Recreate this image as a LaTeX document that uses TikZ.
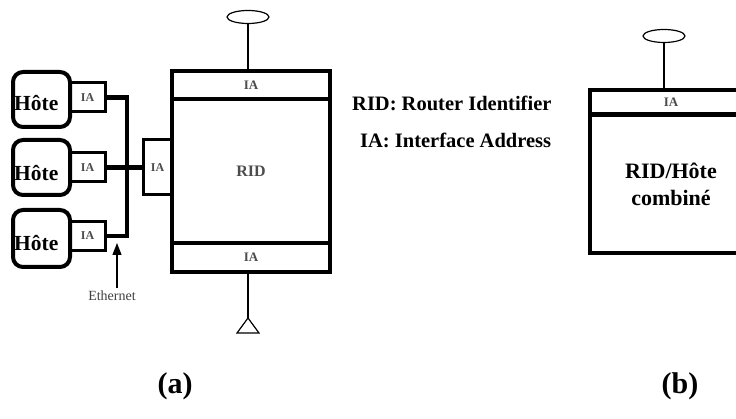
\documentclass[tikz,border=0pt]{standalone}
\usepackage{fontspec}
\setmainfont{Liberation Serif}
\usetikzlibrary{shapes.geometric, arrows.meta, positioning}

\begin{document}
\begin{tikzpicture}[
  x=1pt, y=-1pt,
  >=Stealth,
  % Thick frame of a router / host part
  frame/.style={rectangle, draw, line width=4pt, inner sep=0pt, line join=miter},
  strip/.style={frame, font=\bfseries\fontsize{13}{13}\selectfont, text=black!70},
  % Host box
  hostbox/.style={rectangle, draw, line width=4pt, rounded corners=10pt, inner sep=0pt, minimum width=57, minimum height=55},
  hostlbl/.style={anchor=west, inner sep=0pt, font=\bfseries\fontsize{21.5}{21.5}\selectfont},
  % Small IA box
  iabox/.style={rectangle, draw, line width=3pt, inner sep=0pt, minimum width=35, minimum height=29, font=\bfseries\fontsize{12}{12}\selectfont, text=black!70},
  % Ethernet bus
  busline/.style={line width=4.5pt, line join=miter},
  % Thin connectors
  wire/.style={line width=1.3pt},
  antenna/.style={ellipse, draw, line width=1.2pt, inner sep=0pt, minimum width=42, minimum height=13},
  legend/.style={anchor=west, inner sep=0pt, font=\bfseries\fontsize{20.5}{20.5}\selectfont},
  caption/.style={inner sep=0pt, font=\bfseries\fontsize{30}{30}\selectfont}
]
\clip (0,0) rectangle (736,419);

%% (a) Router with its interfaces
\node[strip, minimum width=158, minimum height=28]  (rtop) at (251,85)    {IA};
\node[frame, minimum width=158, minimum height=144, font=\bfseries\fontsize{16}{16}\selectfont, text=black!70] (rid) at (251,171) {RID};
\node[strip, minimum width=158, minimum height=29]  (rbot) at (251,257.5) {IA};
\node[iabox, minimum width=29, minimum height=55]   (sia)  at (157.5,167.5) {IA};

% top antenna
\node[antenna] (ant) at (248,17) {};
\draw[wire] (ant.south) -- (ant.south |- rtop.north);

% bottom triangle
\coordinate (gnd) at (248,318);
\draw[wire] (gnd |- rbot.south) -- (gnd);
\draw[line width=1.2pt] (gnd) -- ++(-11,15) -- ++(22,0) -- cycle;

%% Hosts
\node[hostbox] (h1) at (41.5,99.5)  {};
\node[hostbox] (h2) at (41.5,167.5) {};
\node[hostbox, minimum height=57] (h3) at (41.5,238.5) {};
\node[hostlbl] at ([xshift=3, yshift=-4]h1.west) {Hôte};
\node[hostlbl] at ([xshift=3, yshift=-6]h2.west) {Hôte};
\node[hostlbl] at ([xshift=3, yshift=-5]h3.west) {Hôte};

\node[iabox] (hia1) at (87.5,97.5) {IA};
\node[iabox] (hia2) at (87.5,167.5) {IA};
\node[iabox] (hia3) at (87.5,236) {IA};

% Ethernet bus
\coordinate (bb) at (127,236);
\draw[busline] (hia1.east) -| (bb) -- (hia3.east);
\draw[busline] (hia2.east) -- (sia.west);

% Ethernet label and arrow
\node[inner sep=0pt, font=\fontsize{14}{14}\selectfont, text=black!75] (eth) at (112,296) {Ethernet};
\coordinate (ethtip) at (117,243);
\draw[wire, -{Triangle[length=12pt, width=9pt]}] (ethtip |- eth.north) ++(0,-3) -- (ethtip);

%% Legend
\node[legend] (lrid) at (352,103) {RID: Router Identifier};
\node[legend] (lia)  at (360,140) {IA: Interface Address};

%% (b) Combined router/host
\node[strip, minimum width=162, minimum height=24, line width=4.5pt] (btop) at (671,102) {IA};
\node[frame, minimum width=162, minimum height=138, line width=4.5pt, align=center, font=\bfseries\fontsize{22}{27}\selectfont] (bbody) at (671,184) {RID/Hôte\\combiné};
\node[antenna] (bant) at (664,36) {};
\draw[wire] (bant.south) -- (bant.south |- btop.north);

%% Captions
\node[caption] (capa) at (175,386) {(a)};
\node[caption] (capb) at (680,386) {(b)};

\end{tikzpicture}
\end{document}
